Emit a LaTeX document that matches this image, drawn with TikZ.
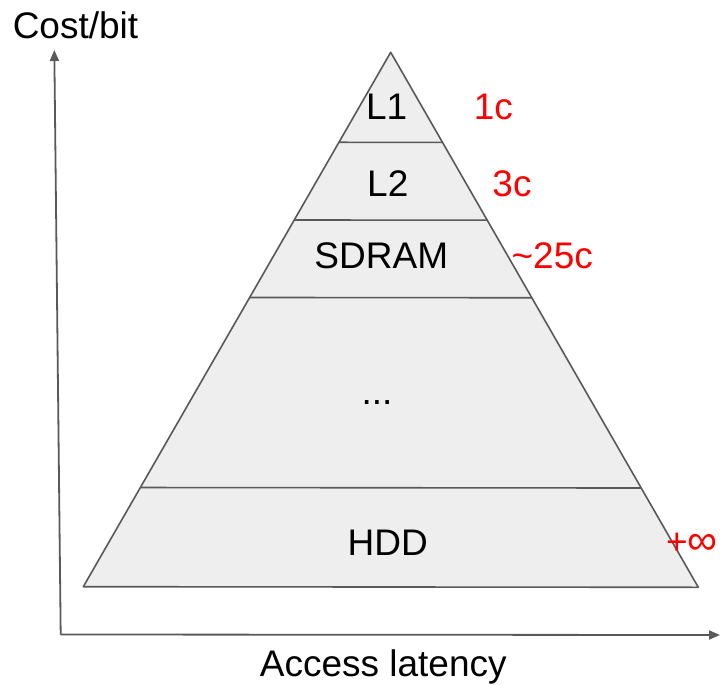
\documentclass[tikz,border=0pt]{standalone}
\usepackage{fontspec}
\setmainfont{Liberation Sans}
\usetikzlibrary{arrows.meta,calc}

\definecolor{edgegray}{HTML}{595959}
\definecolor{layerfill}{HTML}{EEEEEE}
\definecolor{latred}{HTML}{FF0000}

\tikzset{
  label text/.style={inner sep=0pt, anchor=base, font=\fontsize{37}{40}\selectfont},
  latency/.style={label text, text=latred},
  edge line/.style={draw=edgegray, line width=1.6pt},
  axis/.style={draw=edgegray, line width=1.8pt, -{Triangle[length=11pt,width=9pt]}},
}

\begin{document}
\begin{tikzpicture}[x=1pt,y=-1pt]
  \useasboundingbox (0,0) rectangle (720,685);

  % pyramid corners
  \coordinate (apex) at (390.7,52.3);
  \coordinate (bl) at (83.3,586.7);
  \coordinate (br) at (698.3,587.3);

  % layer boundaries on the two sides
  \foreach \n/\t in {a/0.1684, b/0.3138, c/0.4588, d/0.8144} {
    \coordinate (l\n) at ($(apex)!\t!(bl)$);
    \coordinate (r\n) at ($(apex)!\t!(br)$);
  }

  \fill[layerfill] (apex) -- (bl) -- (br) -- cycle;
  \foreach \n in {a,b,c,d} \draw[edge line] (l\n) -- (r\n);
  \draw[edge line, line join=round] (apex) -- (bl) -- (br) -- cycle;

  % axes
  \coordinate (origin) at (60.7,634.5);
  \coordinate (ytip) at (54.3,50);
  \coordinate (xtip) at (720,635);
  \draw[axis] (origin) -- (ytip);
  \draw[axis] (origin) -- (xtip);

  % axis titles
  \node[label text] (ylab) at (75.5,39) {Cost/bit};
  \node[label text] (xlab) at (383.3,676) {Access latency};

  % memory levels
  \node[label text] (l1) at (386.7,119) {L1};
  \node[label text] (l2) at (387.8,196) {L2};
  \node[label text] (sdram) at (381.3,268.3) {SDRAM};
  \node[label text] (dots) at (377,404) {...};
  \node[label text] (hdd) at (387.8,555) {HDD};

  % access latencies
  \node[latency] (c1) at (493.3,119) {1c};
  \node[latency] (c3) at (512,196) {3c};
  \node[latency] (c25) at (552.2,268) {\textasciitilde25c};
  \node[latency] (cinf) at (692,554) {+{\fontsize{42}{40}\selectfont∞}};
\end{tikzpicture}
\end{document}
